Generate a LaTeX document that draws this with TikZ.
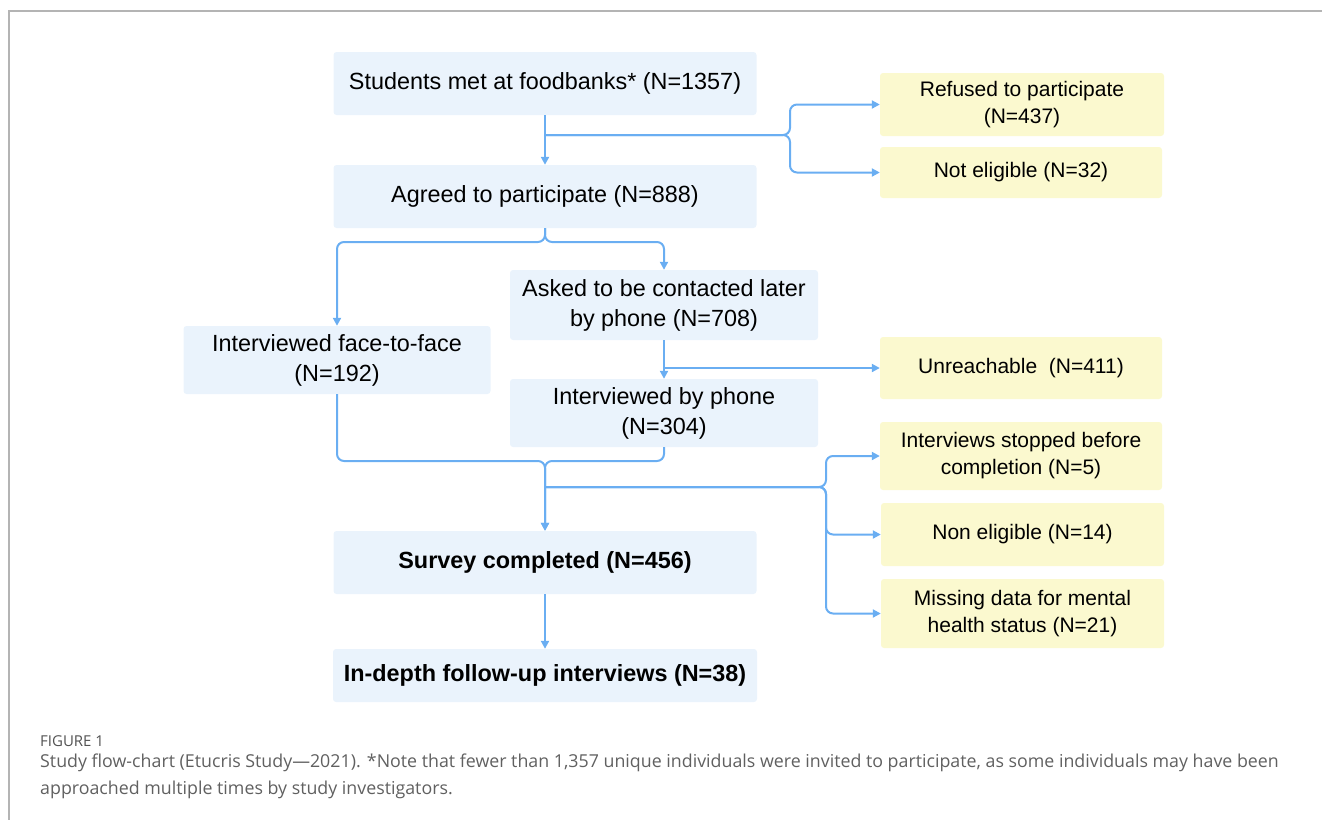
\documentclass[tikz,border=0pt]{standalone}
\usepackage{fontspec}
\setmainfont{Liberation Sans}
\newfontfamily\capfont{Open Sans}
\usetikzlibrary{arrows.meta}
\definecolor{flowblue}{HTML}{6AAEF2}
\definecolor{boxblue}{HTML}{EAF3FC}
\definecolor{boxyellow}{HTML}{FBF9CF}
\definecolor{framegray}{HTML}{B4B4B4}
\definecolor{capgray}{HTML}{606060}
\tikzset{
    bluebox/.style={fill=boxblue,rounded corners=3pt,align=center,inner sep=0pt,font=\fontsize{23.4}{30}\selectfont},
    yellowbox/.style={fill=boxyellow,rounded corners=3pt,align=center,inner sep=0pt,font=\fontsize{21}{27}\selectfont},
    flowline/.style={draw=flowblue,line width=2pt,rounded corners=7pt},
    flowarrow/.style={flowline,-{Triangle[length=8pt,width=8pt]}}
}

\begin{document}
\begin{tikzpicture}[x=1pt,y=-1pt]
        \useasboundingbox (0,0) rectangle (1322,820);
        \draw[framegray,line width=1.5pt] (1322,11) -- (9,11) -- (9,820); % frame

        % main column
        \node[bluebox,minimum width=423pt,minimum height=63pt] (students) at (545,83.5) {Students met at foodbanks* (N=1357)};
        \node[bluebox,minimum width=423pt,minimum height=63pt] (agreed) at (545,196.5) {Agreed to participate (N=888)};
        \node[bluebox,minimum width=308pt,minimum height=70pt] (asked) at (664,305) {Asked to be contacted later\\by phone (N=708)};
        \node[bluebox,minimum width=307pt,minimum height=68pt] (facetoface) at (337,360) {Interviewed face-to-face\\(N=192)};
        \node[bluebox,minimum width=308pt,minimum height=68pt] (phone) at (664,413) {Interviewed by phone\\(N=304)};
        \node[bluebox,minimum width=423pt,minimum height=63pt,font=\fontsize{23.4}{30}\selectfont\bfseries] (survey) at (545,562.5) {Survey completed (N=456)};
        \node[bluebox,minimum width=424pt,minimum height=53pt,font=\fontsize{23.4}{30}\selectfont\bfseries] (indepth) at (545,675.5) {In-depth follow-up interviews (N=38)};

        % exclusions
        \node[yellowbox,minimum width=284pt,minimum height=63pt] (refused) at (1022,104.5) {Refused to participate\\(N=437)};
        \node[yellowbox,minimum width=282pt,minimum height=51pt] (noteligible) at (1021,172.5) {Not eligible (N=32)};
        \node[yellowbox,minimum width=282pt,minimum height=62pt] (unreachable) at (1021,368) {Unreachable~ (N=411)};
        \node[yellowbox,minimum width=282pt,minimum height=68pt] (stopped) at (1021,456) {Interviews stopped before\\completion (N=5)};
        \node[yellowbox,minimum width=283pt,minimum height=63pt] (noneligible) at (1022.5,534.5) {Non eligible (N=14)};
        \node[yellowbox,minimum width=283pt,minimum height=69pt] (missing) at (1022.5,613.5) {Missing data for mental\\health status (N=21)};

        % branch points
        \coordinate (split1) at (545,135);
        \coordinate (brace1) at (790,135);
        \coordinate (split2) at (545,242);
        \coordinate (split3) at (asked.south |- unreachable.west);
        \coordinate (merge) at (545,461);
        \coordinate (split4) at (545,487);
        \coordinate (brace2) at (826,487);

        %arrows
        \draw[flowarrow] (students) -- (agreed);
        \draw[flowarrow] (split1) -- (brace1) |- (refused.west);
        \draw[flowarrow] (split1) -- (brace1) |- (noteligible.west);
        \draw[flowarrow] (agreed.south) -- (split2) -| (facetoface.north);
        \draw[flowarrow] (agreed.south) -- (split2) -| (asked.north);
        \draw[flowarrow] (asked) -- (phone);
        \draw[flowarrow] (split3) -- (unreachable.west);
        \draw[flowarrow] (facetoface.south) |- (merge) -- (survey.north);
        \draw[flowarrow] (phone.south) |- (merge) -- (survey.north);
        \draw[flowarrow] (split4) -- (brace2) |- (stopped.west);
        \draw[flowarrow] (split4) -- (brace2) |- (noneligible.west);
        \draw[flowarrow] (split4) -- (brace2) |- (missing.west);
        \draw[flowarrow] (survey) -- (indepth);

        % caption
        \node[anchor=base west,inner sep=0pt,text=capgray!85!black,font=\capfont\fontsize{15}{18}\selectfont] (figlabel) at (40,746) {FIGURE 1};
        \node[anchor=base west,inner sep=0pt,text=capgray,font=\capfont\fontsize{17.8}{22}\selectfont] (captionone) at (40,767) {Study flow-chart (Etucris Study—2021). *Note that fewer than 1,357 unique individuals were invited to participate, as some individuals may have been};
        \node[anchor=base west,inner sep=0pt,text=capgray,font=\capfont\fontsize{17.8}{22}\selectfont] (captiontwo) at (40,794) {approached multiple times by study investigators.};
\end{tikzpicture}
\end{document}
